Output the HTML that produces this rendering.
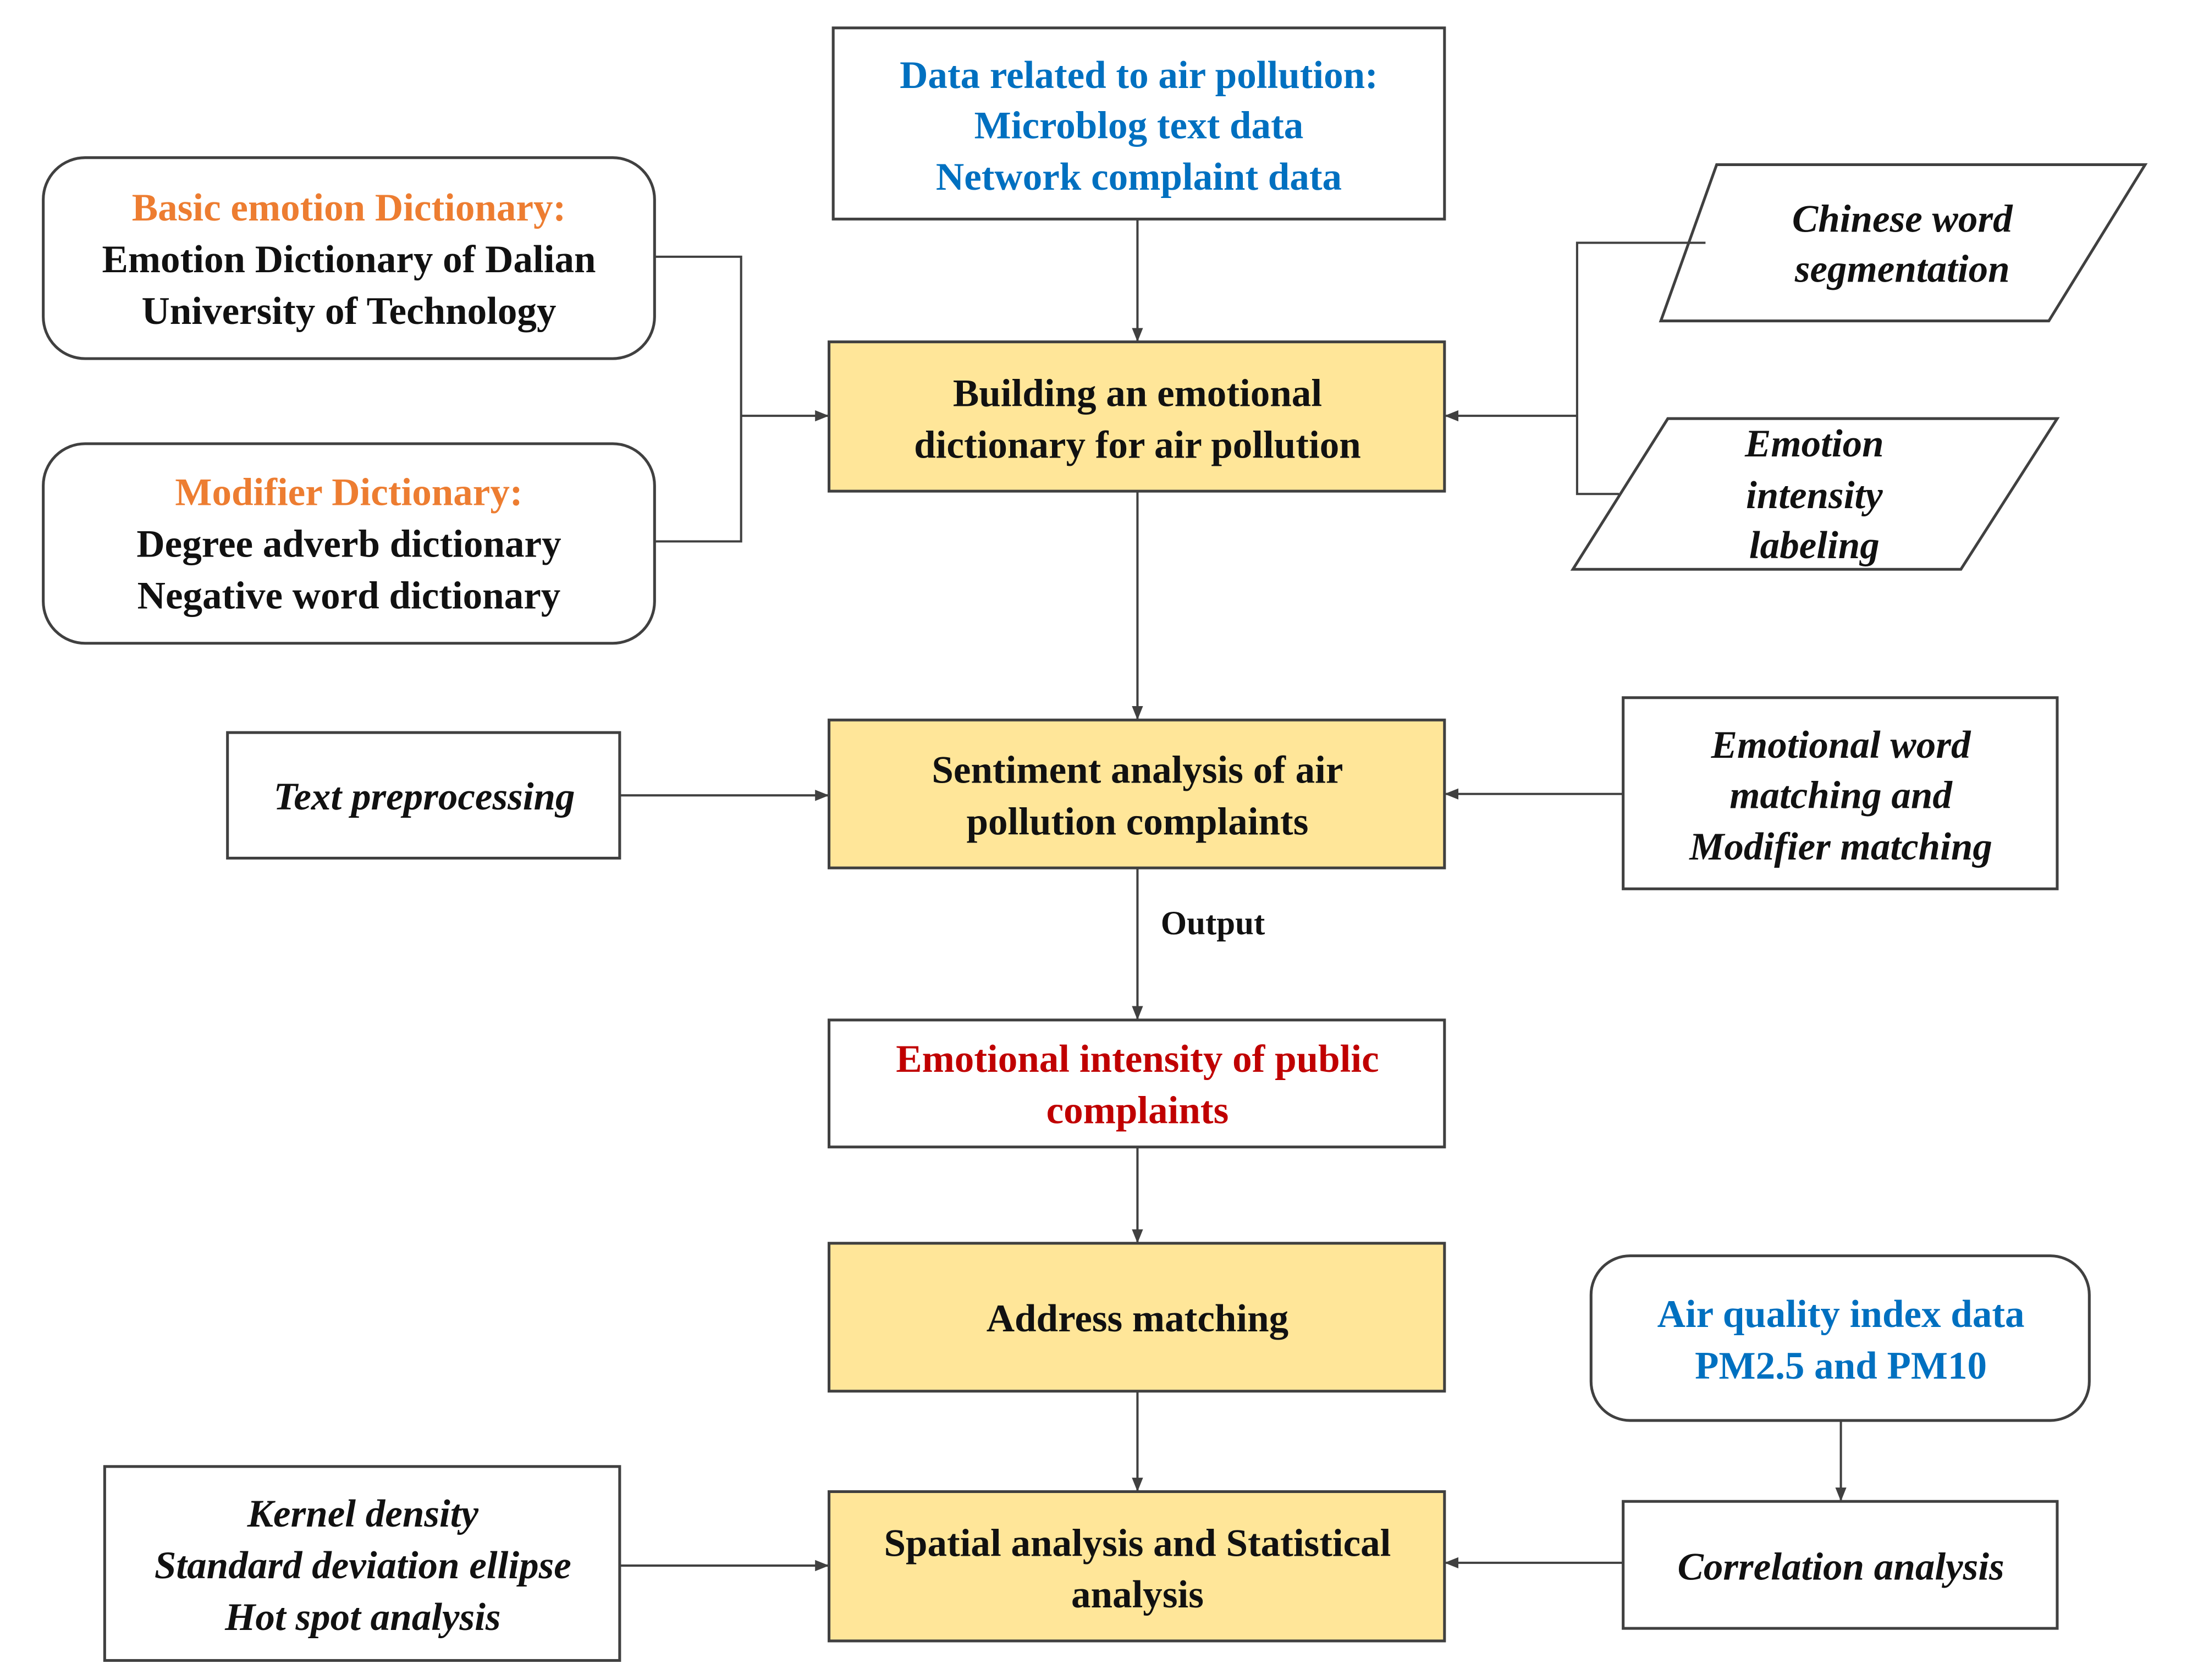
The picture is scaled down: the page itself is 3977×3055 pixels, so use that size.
<!DOCTYPE html>
<html><head><meta charset="utf-8"><style>html,body{margin:0;padding:0;background:#fff}svg{display:block}
.t{font-family:'Liberation Serif','DejaVu Serif',serif;font-weight:bold}</style></head>
<body>
<svg xmlns="http://www.w3.org/2000/svg" width="3977" height="3055" viewBox="0 0 1567 1204" preserveAspectRatio="none">
<defs><marker id="a" markerWidth="10" markerHeight="10" refX="9" refY="5" orient="auto" markerUnits="userSpaceOnUse"><path d="M0,1 L10,5 L0,9 z" fill="#404040"/></marker></defs>
<g stroke="#404040" stroke-width="2" fill="#fff">
<rect x="597" y="20" width="438" height="137"/>
<rect x="31" y="113" width="438" height="144" rx="30"/>
<rect x="31" y="318" width="438" height="143" rx="30"/>
<rect x="594" y="245" width="441" height="107" fill="#FFE699"/>
<polygon points="1230,118 1537,118 1468,230 1190,230"/>
<polygon points="1195,300 1474,300 1405,408 1127,408"/>
<rect x="594" y="516" width="441" height="106" fill="#FFE699"/>
<rect x="163" y="525" width="281" height="90"/>
<rect x="1163" y="500" width="311" height="137"/>
<rect x="594" y="731" width="441" height="91"/>
<rect x="594" y="891" width="441" height="106" fill="#FFE699"/>
<rect x="594" y="1069" width="441" height="107" fill="#FFE699"/>
<rect x="75" y="1051" width="369" height="139"/>
<rect x="1140" y="900" width="357" height="118" rx="28"/>
<rect x="1163" y="1076" width="311" height="91"/>
</g>
<g stroke="#404040" stroke-width="1.6" fill="none">
<polyline points="469,184 531,184 531,388 469,388"/>
<line x1="531" y1="298" x2="593" y2="298" marker-end="url(#a)"/>
<polyline points="1222,174 1130,174 1130,354 1160,354"/>
<line x1="1130" y1="298" x2="1036" y2="298" marker-end="url(#a)"/>
<line x1="815" y1="157" x2="815" y2="244" marker-end="url(#a)"/>
<line x1="815" y1="352" x2="815" y2="515" marker-end="url(#a)"/>
<line x1="444" y1="570" x2="593" y2="570" marker-end="url(#a)"/>
<line x1="1163" y1="569" x2="1036" y2="569" marker-end="url(#a)"/>
<line x1="815" y1="622" x2="815" y2="730" marker-end="url(#a)"/>
<line x1="815" y1="822" x2="815" y2="890" marker-end="url(#a)"/>
<line x1="815" y1="997" x2="815" y2="1068" marker-end="url(#a)"/>
<line x1="444" y1="1122" x2="593" y2="1122" marker-end="url(#a)"/>
<line x1="1319" y1="1018" x2="1319" y2="1075" marker-end="url(#a)"/>
<line x1="1163" y1="1120" x2="1036" y2="1120" marker-end="url(#a)"/>
</g>
<g class="t" font-size="28" text-anchor="middle" dominant-baseline="central" fill="#111">
<g fill="#0070C0"><text x="816" y="54">Data related to air pollution:</text><text x="816" y="90">Microblog text data</text><text x="816" y="127">Network complaint data</text></g>
<text x="250" y="149" fill="#ED7D31">Basic emotion Dictionary:</text>
<text x="250" y="186">Emotion Dictionary of Dalian</text>
<text x="250" y="223">University of Technology</text>
<text x="250" y="353" fill="#ED7D31">Modifier Dictionary:</text>
<text x="250" y="390">Degree adverb dictionary</text>
<text x="250" y="427">Negative word dictionary</text>
<text x="815" y="282">Building an emotional</text>
<text x="815" y="319">dictionary for air pollution</text>
<text x="815" y="552">Sentiment analysis of air</text>
<text x="815" y="589">pollution complaints</text>
<text x="869" y="662" font-size="24">Output</text>
<g fill="#C00000"><text x="815" y="759">Emotional intensity of public</text><text x="815" y="796">complaints</text></g>
<text x="815" y="945">Address matching</text>
<text x="815" y="1106">Spatial analysis and Statistical</text>
<text x="815" y="1143">analysis</text>
<g fill="#0070C0"><text x="1319" y="942">Air quality index data</text><text x="1319" y="979">PM2.5 and PM10</text></g>
<g font-style="italic">
<text x="1363" y="157">Chinese word</text><text x="1363" y="193">segmentation</text>
<text x="1300" y="318">Emotion</text><text x="1300" y="355">intensity</text><text x="1300" y="391">labeling</text>
<text x="304" y="571">Text preprocessing</text>
<text x="1319" y="534">Emotional word</text><text x="1319" y="570">matching and</text><text x="1319" y="607">Modifier matching</text>
<text x="260" y="1085">Kernel density</text><text x="260" y="1122">Standard deviation ellipse</text><text x="260" y="1159">Hot spot analysis</text>
<text x="1319" y="1123">Correlation analysis</text>
</g>
</g>
</svg>
</body></html>
